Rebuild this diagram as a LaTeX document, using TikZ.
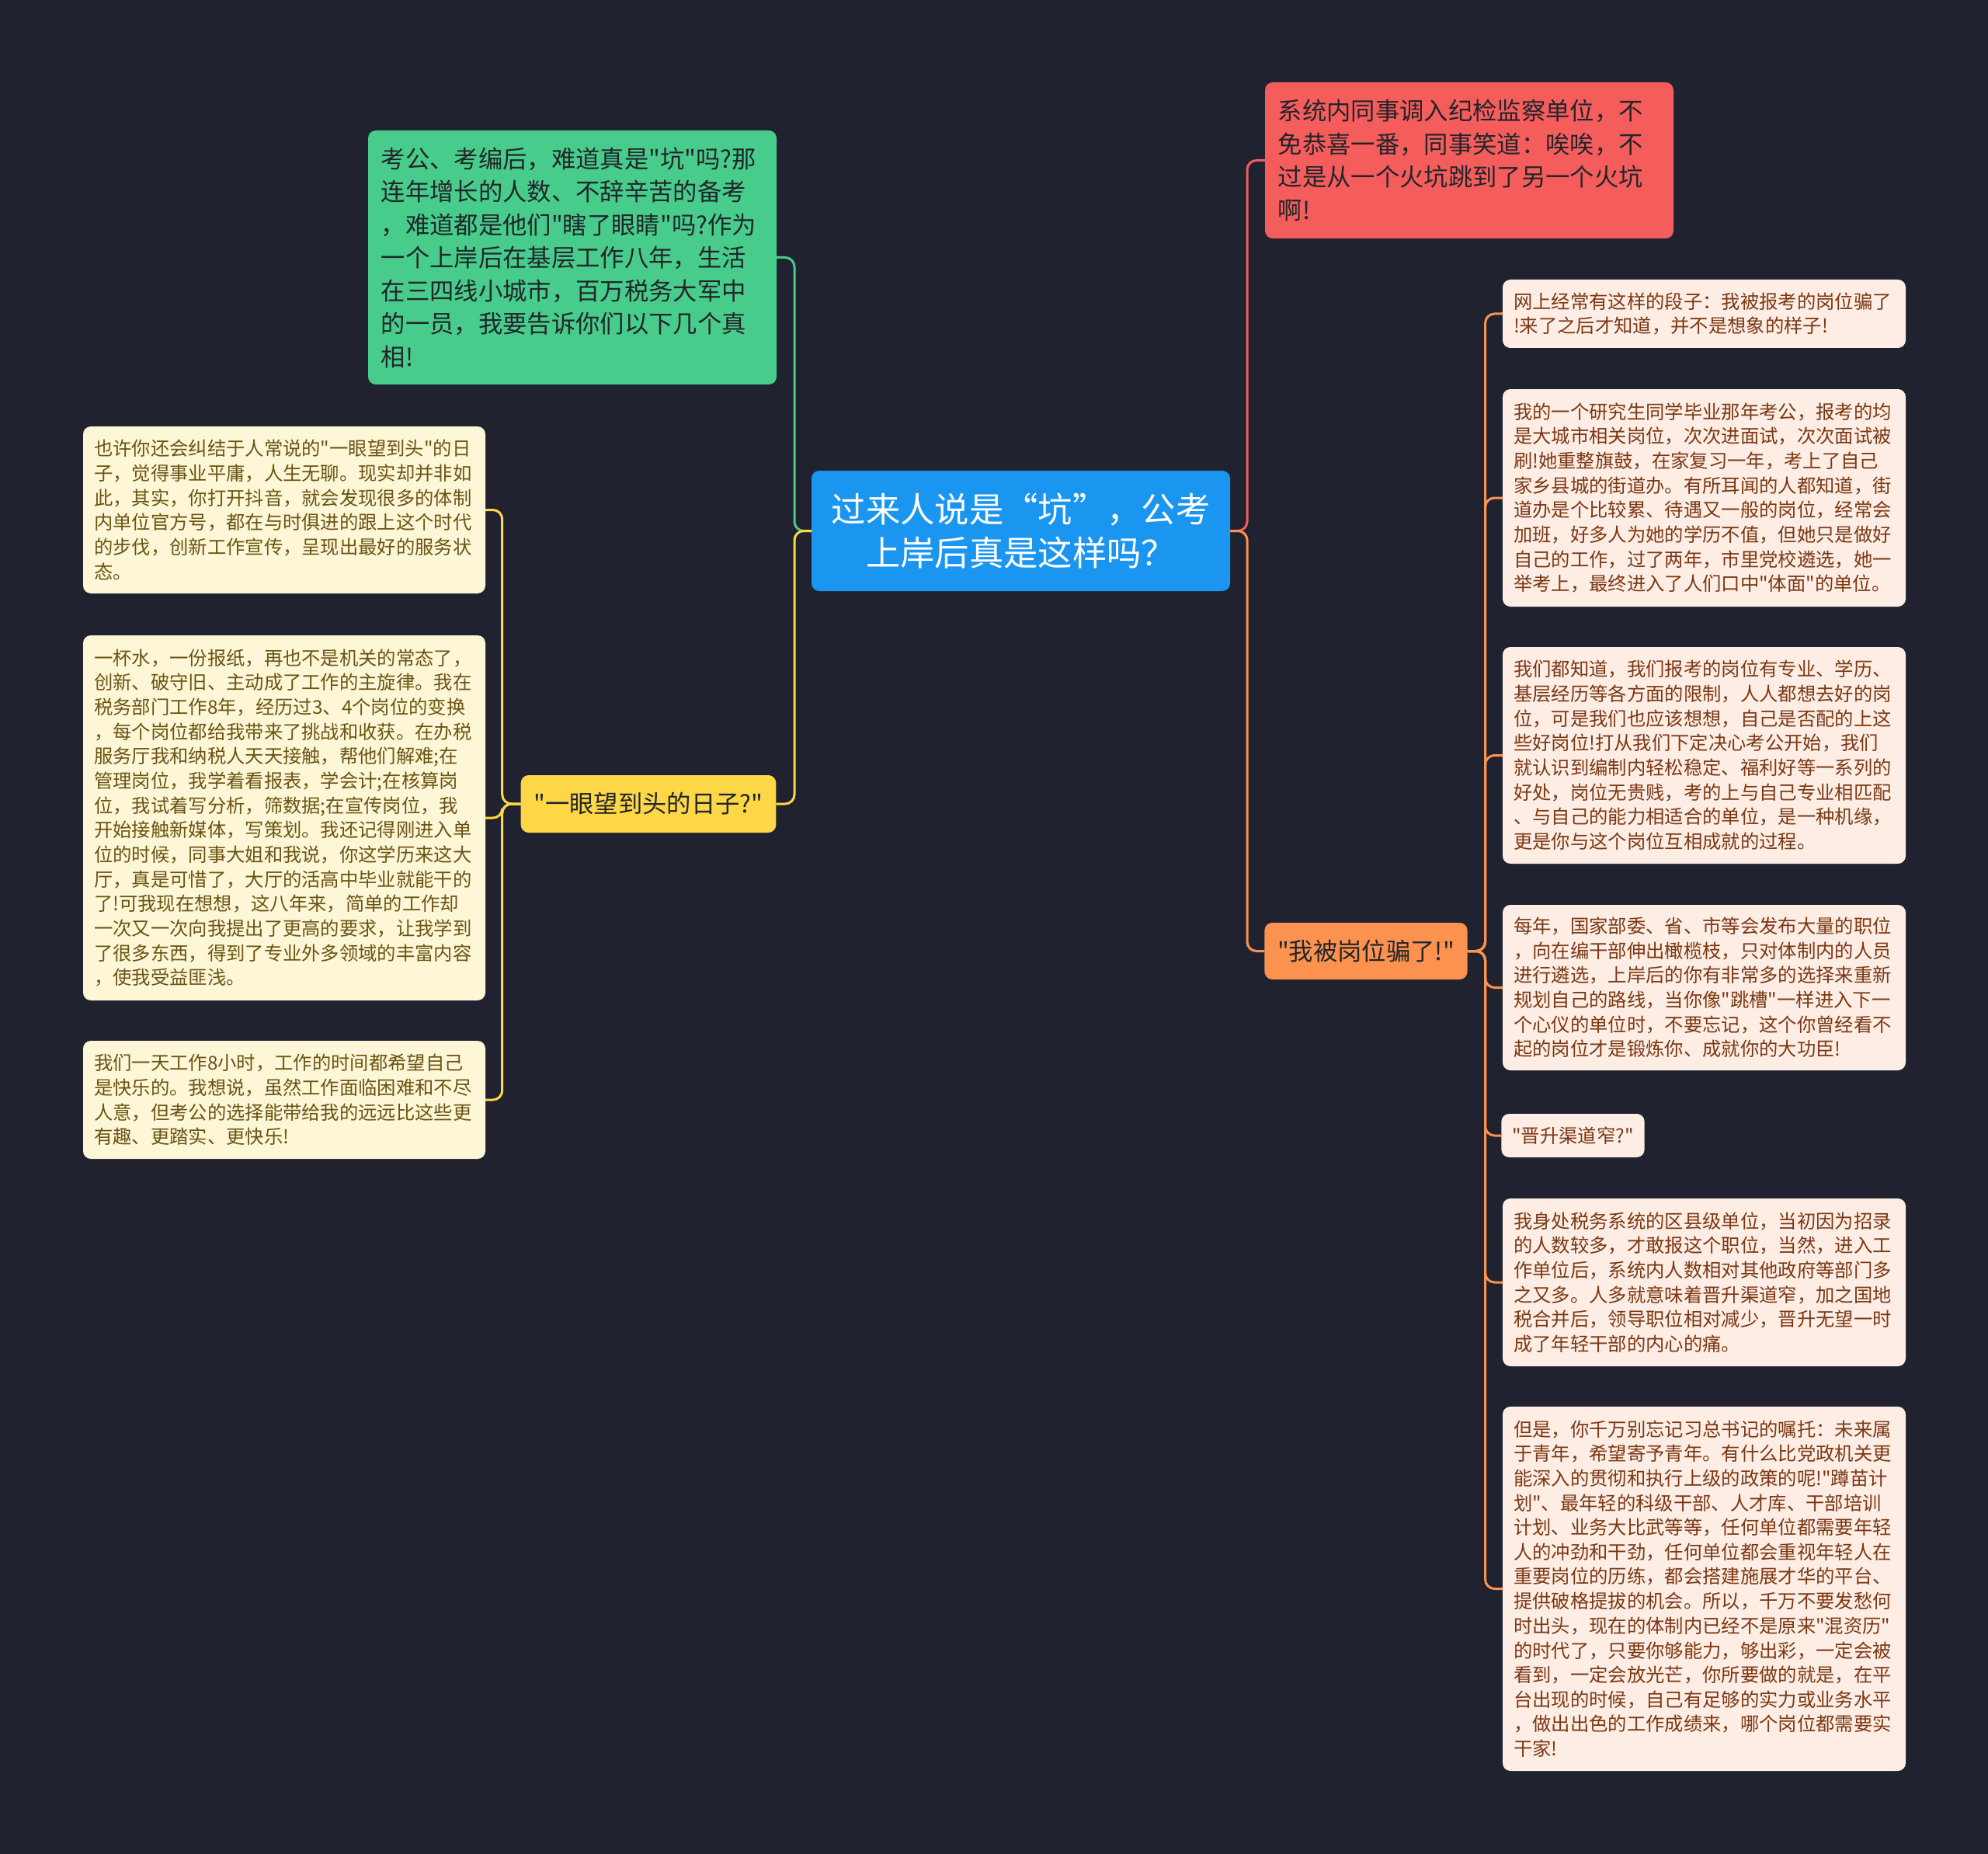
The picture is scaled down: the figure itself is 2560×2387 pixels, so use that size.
\documentclass[tikz,border=0pt]{standalone}
\usepackage{fontspec}
\usepackage{xcolor}
\newfontfamily\cjk{Noto Sans CJK SC}
\definecolor{bg}{HTML}{20232F}
\definecolor{mainblue}{HTML}{1A96F0}
\definecolor{mgreen}{HTML}{48CC8C}
\definecolor{mred}{HTML}{F55D5D}
\definecolor{myellow}{HTML}{FDD746}
\definecolor{morange}{HTML}{FC9250}
\definecolor{lcream}{HTML}{FDF7D8}
\definecolor{rcream}{HTML}{FDEDE4}
\definecolor{ltext}{HTML}{6B5412}
\definecolor{rtext}{HTML}{7B3813}
\definecolor{dtext}{HTML}{22252A}

\begin{document}
\begin{tikzpicture}[x=0.3pt, y=-0.3pt,
  box/.style={rounded corners=3pt, inner xsep=4.2pt, inner ysep=0pt, outer sep=0pt, align=left},
  mid/.style={box, font=\cjk\fontsize{9.4pt}{12.75pt}\selectfont, text=dtext, inner xsep=5pt},
  lleaf/.style={box, fill=lcream, text=ltext, text width=147pt, minimum width=155.4pt, font=\cjk\fontsize{7.3pt}{9.5pt}\selectfont},
  rleaf/.style={box, fill=rcream, text=rtext, text width=147.3pt, minimum width=155.7pt, font=\cjk\fontsize{7.3pt}{9.5pt}\selectfont},
  link/.style={line width=0.9pt, rounded corners=3.6pt}]
  \fill[bg] (0,0) rectangle (2560,2387);
  \useasboundingbox (0,0) rectangle (2560,2387);

  % root
  \node[box, fill=mainblue, text=white, align=center, minimum width=161.7pt, minimum height=46.5pt,
    font=\cjk\fontsize{13.3pt}{16.7pt}\selectfont] (ctr) at (1314.5,683.5)
    {过来人说是“坑”，公考\\上岸后真是这样吗？};

  % main branches
  \node[mid, fill=mgreen, text width=147.8pt, minimum width=157.8pt, minimum height=98.1pt] (grn) at (737,331.5)
    {考公、考编后，难道真是"坑"吗?那\\连年增长的人数、不辞辛苦的备考\\，难道都是他们"瞎了眼睛"吗?作为\\一个上岸后在基层工作八年，生活\\在三四线小城市，百万税务大军中\\的一员，我要告诉你们以下几个真\\相!};
  \node[mid, fill=mred, text width=147.8pt, minimum width=157.8pt, minimum height=60.3pt] (red) at (1892,206.5)
    {系统内同事调入纪检监察单位，不\\免恭喜一番，同事笑道：唉唉，不\\过是从一个火坑跳到了另一个火坑\\啊!};
  \node[mid, fill=myellow, align=center, minimum width=98.4pt, minimum height=22.2pt] (yb) at (835,1035)
    {"一眼望到头的日子?"};
  \node[mid, fill=morange, align=center, minimum width=78pt, minimum height=21.9pt] (ob) at (1759,1224.5)
    {"我被岗位骗了!"};

  % left leaves
  \node[lleaf, minimum height=64.5pt] (l1) at (366,656.5)
    {也许你还会纠结于人常说的"一眼望到头"的日\\子，觉得事业平庸，人生无聊。现实却并非如\\此，其实，你打开抖音，就会发现很多的体制\\内单位官方号，都在与时俱进的跟上这个时代\\的步伐，创新工作宣传，呈现出最好的服务状\\态。};
  \node[lleaf, minimum height=141pt] (l2) at (366,1053)
    {一杯水，一份报纸，再也不是机关的常态了，\\创新、破守旧、主动成了工作的主旋律。我在\\税务部门工作8年，经历过3、4个岗位的变换\\，每个岗位都给我带来了挑战和收获。在办税\\服务厅我和纳税人天天接触，帮他们解难;在\\管理岗位，我学着看报表，学会计;在核算岗\\位，我试着写分析，筛数据;在宣传岗位，我\\开始接触新媒体，写策划。我还记得刚进入单\\位的时候，同事大姐和我说，你这学历来这大\\厅，真是可惜了，大厅的活高中毕业就能干的\\了!可我现在想想，这八年来，简单的工作却\\一次又一次向我提出了更高的要求，让我学到\\了很多东西，得到了专业外多领域的丰富内容\\，使我受益匪浅。};
  \node[lleaf, minimum height=45.6pt] (l3) at (366,1416)
    {我们一天工作8小时，工作的时间都希望自己\\是快乐的。我想说，虽然工作面临困难和不尽\\人意，但考公的选择能带给我的远远比这些更\\有趣、更踏实、更快乐!};

  % right leaves
  \node[rleaf, minimum height=26.4pt] (r1) at (2194.5,404)
    {网上经常有这样的段子：我被报考的岗位骗了\\!来了之后才知道，并不是想象的样子!};
  \node[rleaf, minimum height=84pt] (r2) at (2194.5,641)
    {我的一个研究生同学毕业那年考公，报考的均\\是大城市相关岗位，次次进面试，次次面试被\\刷!她重整旗鼓，在家复习一年，考上了自己\\家乡县城的街道办。有所耳闻的人都知道，街\\道办是个比较累、待遇又一般的岗位，经常会\\加班，好多人为她的学历不值，但她只是做好\\自己的工作，过了两年，市里党校遴选，她一\\举考上，最终进入了人们口中"体面"的单位。};
  \node[rleaf, minimum height=83.7pt] (r3) at (2194.5,972.5)
    {我们都知道，我们报考的岗位有专业、学历、\\基层经历等各方面的限制，人人都想去好的岗\\位，可是我们也应该想想，自己是否配的上这\\些好岗位!打从我们下定决心考公开始，我们\\就认识到编制内轻松稳定、福利好等一系列的\\好处，岗位无贵贱，考的上与自己专业相匹配\\、与自己的能力相适合的单位，是一种机缘，\\更是你与这个岗位互相成就的过程。};
  \node[rleaf, minimum height=63.9pt] (r4) at (2194.5,1271.5)
    {每年，国家部委、省、市等会发布大量的职位\\，向在编干部伸出橄榄枝，只对体制内的人员\\进行遴选，上岸后的你有非常多的选择来重新\\规划自己的路线，当你像"跳槽"一样进入下一\\个心仪的单位时，不要忘记，这个你曾经看不\\起的岗位才是锻炼你、成就你的大功臣!};
  \node[rleaf, text width=, minimum width=54.3pt, minimum height=16.8pt] (r5) at (2025.5,1462)
    {"晋升渠道窄?"};
  \node[rleaf, minimum height=64.8pt] (r6) at (2194.5,1651)
    {我身处税务系统的区县级单位，当初因为招录\\的人数较多，才敢报这个职位，当然，进入工\\作单位后，系统内人数相对其他政府等部门多\\之又多。人多就意味着晋升渠道窄，加之国地\\税合并后，领导职位相对减少，晋升无望一时\\成了年轻干部的内心的痛。};
  \node[rleaf, minimum height=140.7pt] (r7) at (2194.5,2045.5)
    {但是，你千万别忘记习总书记的嘱托：未来属\\于青年，希望寄予青年。有什么比党政机关更\\能深入的贯彻和执行上级的政策的呢!"蹲苗计\\划"、最年轻的科级干部、人才库、干部培训\\计划、业务大比武等等，任何单位都需要年轻\\人的冲劲和干劲，任何单位都会重视年轻人在\\重要岗位的历练，都会搭建施展才华的平台、\\提供破格提拔的机会。所以，千万不要发愁何\\时出头，现在的体制内已经不是原来"混资历"\\的时代了，只要你够能力，够出彩，一定会被\\看到，一定会放光芒，你所要做的就是，在平\\台出现的时候，自己有足够的实力或业务水平\\，做出出色的工作成绩来，哪个岗位都需要实\\干家!};

  % connectors
  \draw[link, mgreen] (ctr.west) -- ++(-22,0) |- (grn.east);
  \draw[link, myellow] (ctr.west) -- ++(-22,0) |- (yb.east);
  \draw[link, mred] (ctr.east) -- ++(22,0) |- (red.west);
  \draw[link, morange] (ctr.east) -- ++(22,0) |- (ob.west);
  \foreach \n in {l1,l2,l3}
    \draw[link, myellow] (yb.west) -- ++(-24,0) |- (\n.east);
  \foreach \n in {r1,r2,r3,r4,r5,r6,r7}
    \draw[link, morange] (ob.east) -- ++(23,0) |- (\n.west);
\end{tikzpicture}
\end{document}
